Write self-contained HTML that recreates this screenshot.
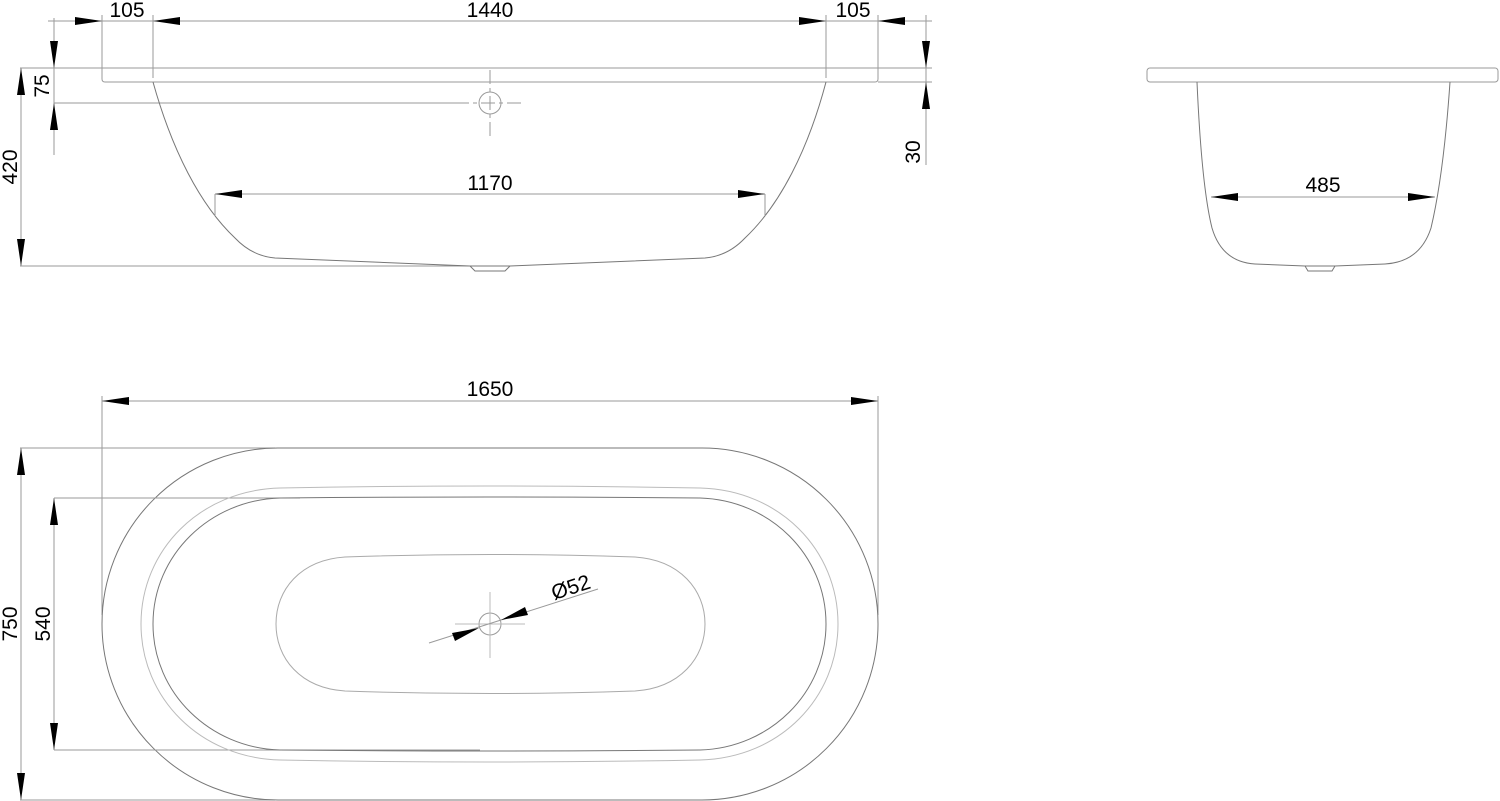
<!DOCTYPE html>
<html><head><meta charset="utf-8"><style>
html,body{margin:0;padding:0;background:#fff;}
svg{display:block;}
text{font-family:"Liberation Sans",sans-serif;font-size:21px;fill:#000;}
</style></head><body>
<svg width="1500" height="801" viewBox="0 0 1500 801" xmlns="http://www.w3.org/2000/svg">
<g fill="none" stroke="#9a9a9a" stroke-width="1">
<line x1="48" y1="21" x2="932" y2="21"/>
<line x1="102" y1="15" x2="102" y2="76"/>
<line x1="153" y1="15" x2="153" y2="78"/>
<line x1="826" y1="15" x2="826" y2="78"/>
<line x1="878" y1="15" x2="878" y2="76"/>
<line x1="20" y1="68" x2="932" y2="68"/>
<path d="M102,68 V79 Q102,82 105,82 H875 Q878,82 878,79 V68"/>
<line x1="878" y1="82" x2="932" y2="82"/>
<line x1="54" y1="18" x2="54" y2="155"/>
<line x1="54" y1="103" x2="455" y2="103"/>
<line x1="455" y1="103" x2="525" y2="103" stroke-dasharray="14,4,4,4"/>
<line x1="490" y1="70" x2="490" y2="136" stroke-dasharray="14,4,4,4"/>
<circle cx="490" cy="103" r="11"/>
<line x1="21" y1="68" x2="21" y2="266"/>
<line x1="20" y1="266" x2="470" y2="266"/>
<line x1="926" y1="15" x2="926" y2="165"/>
<path stroke="#777" d="M153,82 C172,150 200,205 235,238 Q252,256 275,258 L470,266 L510,266 L705,258 Q728,256 745,238 C780,205 808,150 826,82"/>
<path stroke="#777" d="M470,266 L475,271 H505 L510,266"/>
<line x1="215" y1="194" x2="765" y2="194"/>
<line x1="215" y1="194" x2="215" y2="216"/>
<line x1="765" y1="194" x2="765" y2="216"/>
<rect x="1147" y="68" width="351" height="14" rx="3"/>
<path stroke="#777" d="M1197,82 C1200,150 1205,200 1212,228 Q1222,262 1255,264 L1305,266 H1335 L1385,264 Q1420,262 1431,228 C1440,190 1446,140 1450,82"/>
<path stroke="#777" d="M1305,266 L1308,271 H1332 L1335,266"/>
<line x1="1211" y1="197" x2="1435" y2="197"/>
<line x1="102" y1="401" x2="878" y2="401"/>
<line x1="102" y1="396" x2="102" y2="615"/>
<line x1="878" y1="396" x2="878" y2="615"/>
<line x1="20" y1="448" x2="275" y2="448"/>
<line x1="20" y1="800" x2="275" y2="800"/>
<rect x="102" y="448" width="776" height="352" rx="176" ry="176" stroke="#777"/>
<line x1="21" y1="448" x2="21" y2="800"/>
<line x1="54" y1="498" x2="54" y2="750"/>
<line x1="54" y1="498" x2="300" y2="498"/>
<line x1="54" y1="750" x2="480" y2="750"/>
<path stroke="#bbb" d="M280,488 Q490,484 700,488 C780,490 838,550 838,624 C838,698 780,758 700,760 Q490,764 280,760 C200,758 141,698 141,624 C141,550 200,490 280,488 Z"/>
<path stroke="#777" d="M280,498 Q490,496 700,498 C770,500 826,555 826,624 C826,693 770,748 700,750 Q490,752 280,750 C210,748 153,693 153,624 C153,555 210,500 280,498 Z"/>
<path stroke="#aaa" d="M345,557 Q490,552 635,557 C680,560 705,590 705,624 C705,658 680,688 635,691 Q490,696 345,691 C300,688 276,658 276,624 C276,590 300,560 345,557 Z"/>
<circle cx="490" cy="624" r="11"/>
<line x1="455" y1="624" x2="525" y2="624" stroke="#bbb"/>
<line x1="490" y1="592" x2="490" y2="658" stroke="#bbb"/>
<line x1="429" y1="643" x2="598" y2="589"/>
</g>
<g fill="#000">
<polygon points="102,21 75,17 75,25"/>
<polygon points="153,21 180,17 180,25"/>
<polygon points="826,21 799,17 799,25"/>
<polygon points="878,21 905,17 905,25"/>
<polygon points="54,68 50,41 58,41"/>
<polygon points="54,103 50,130 58,130"/>
<polygon points="21,68 17,95 25,95"/>
<polygon points="21,266 17,239 25,239"/>
<polygon points="926,68 922,41 930,41"/>
<polygon points="926,82 922,109 930,109"/>
<polygon points="215,194 242,190 242,198"/>
<polygon points="765,194 738,190 738,198"/>
<polygon points="1211,197 1238,193 1238,201"/>
<polygon points="1435,197 1408,193 1408,201"/>
<polygon points="102,401 129,397 129,405"/>
<polygon points="878,401 851,397 851,405"/>
<polygon points="21,448 17,475 25,475"/>
<polygon points="21,800 17,773 25,773"/>
<polygon points="54,498 50,525 58,525"/>
<polygon points="54,750 50,723 58,723"/>
<polygon points="479,628 452,633 455,641"/>
<polygon points="501,620 528,615 525,607"/>
</g>
<text x="127" y="17" text-anchor="middle">105</text>
<text x="490" y="17" text-anchor="middle">1440</text>
<text x="853" y="17" text-anchor="middle">105</text>
<text x="490" y="190" text-anchor="middle">1170</text>
<text x="1323" y="192" text-anchor="middle">485</text>
<text x="490" y="396" text-anchor="middle">1650</text>
<text transform="translate(49,86) rotate(-90)" text-anchor="middle">75</text>
<text transform="translate(17,167) rotate(-90)" text-anchor="middle">420</text>
<text transform="translate(920,152) rotate(-90)" text-anchor="middle">30</text>
<text transform="translate(17,624) rotate(-90)" text-anchor="middle">750</text>
<text transform="translate(50,624) rotate(-90)" text-anchor="middle">540</text>
<text transform="translate(573,594) rotate(-18)" text-anchor="middle">Ø52</text>
</svg>
</body></html>
